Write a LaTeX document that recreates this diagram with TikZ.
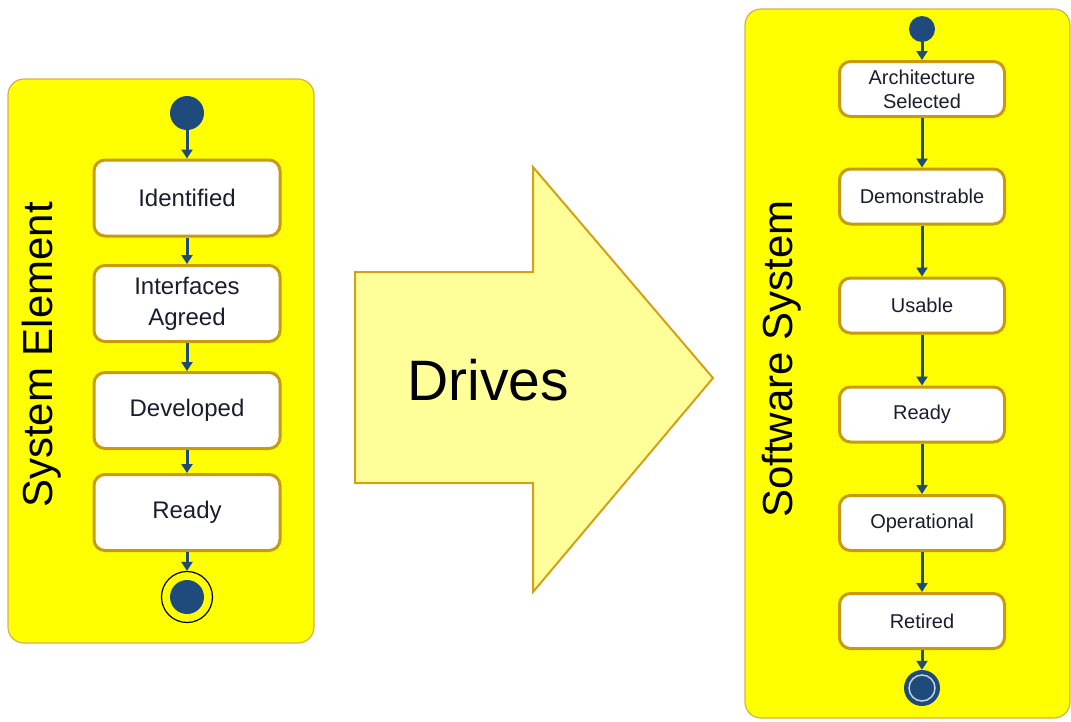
\documentclass[tikz,border=0pt]{standalone}
\usepackage{fontspec}
\setmainfont{Liberation Sans}
\usetikzlibrary{arrows.meta, positioning}
\usepackage{xcolor}
\definecolor{laneyellow}{HTML}{FFFF00}
\definecolor{laneborder}{HTML}{D6B04A}
\definecolor{stateborder}{HTML}{C99A0E}
\definecolor{flowblue}{HTML}{1F4A7C}
\definecolor{drivefill}{HTML}{FFFF99}
\definecolor{driveborder}{HTML}{D4A017}
\definecolor{textdark}{HTML}{1C1C30}

\begin{document}
\begin{tikzpicture}[
    x=1pt, y=-1pt,
    lane/.style={
        draw=laneborder, line width=1.2pt,
        fill=laneyellow,
        rounded corners=16pt
    },
    state/.style={
        rectangle, draw=stateborder, line width=3pt,
        fill=white,
        rounded corners=11pt,
        align=center,
        text=textdark,
        inner sep=0pt
    },
    bigstate/.style={
        state,
        minimum width=186pt, minimum height=76pt,
        font=\fontsize{24}{31}\selectfont
    },
    smallstate/.style={
        state,
        minimum width=165pt, minimum height=55pt,
        font=\fontsize{20}{24}\selectfont
    },
    initial/.style={
        circle, fill=flowblue, inner sep=0pt
    },
    finalring/.style={
        circle, draw=black, line width=1.2pt,
        fill=laneyellow, inner sep=0pt,
        minimum size=51pt
    },
    finaldot/.style={
        circle, fill=flowblue, inner sep=0pt,
        minimum size=36pt
    },
    flow/.style={
        -{Triangle[width=11pt,length=9pt]},
        line width=3pt,
        draw=flowblue
    },
    lanelabel/.style={
        rotate=90,
        font=\fontsize{42}{42}\selectfont,
        text=black
    }
]

\useasboundingbox (0,0) rectangle (1071,721);

% ==========================================
% LANES
% ==========================================

\draw[lane] (8,79) rectangle (314,643);
\draw[lane] (745,9) rectangle (1070,718);

\node[lanelabel] (se_label) at (42,355) {System Element};
\node[lanelabel] (ss_label) at (782,359) {Software System};

% ==========================================
% SYSTEM ELEMENT STATES
% ==========================================

\node[initial, minimum size=34pt] (se_init) at (187,113) {};
\node[bigstate] (se_ident) at (187,198) {Identified};
\node[bigstate] (se_iface) at (187,303.5) {Interfaces\\Agreed};
\node[bigstate] (se_dev) at (187,410.5) {Developed};
\node[bigstate] (se_ready) at (187,512.5) {Ready};
\node[finalring] (se_final) at (187,597) {};
\fill[flowblue] (se_final) circle[radius=17pt];

\draw[flow] (se_init) -- (se_ident);
\draw[flow] (se_ident) -- (se_iface);
\draw[flow] (se_iface) -- (se_dev);
\draw[flow] (se_dev) -- (se_ready);
\draw[flow] (se_ready) -- (se_final);

% ==========================================
% DRIVES ARROW
% ==========================================

\draw[fill=drivefill, draw=driveborder, line width=2pt]
(355,272) -- (533,272) -- (533,167) -- (713,378)
-- (533,592) -- (533,483) -- (355,483) -- cycle;

\node[font=\fontsize{57}{57}\selectfont] (drives) at (488,380) {Drives};

% ==========================================
% SOFTWARE SYSTEM STATES
% ==========================================

\node[initial, minimum size=26pt] (ss_init) at (922,29) {};
\node[smallstate] (ss_arch) at (922,89) {Architecture\\Selected};
\node[smallstate] (ss_demo) at (922,196.5) {Demonstrable};
\node[smallstate] (ss_usable) at (922,305.5) {Usable};
\node[smallstate] (ss_ready) at (922,414.5) {Ready};
\node[smallstate] (ss_oper) at (922,523) {Operational};
\node[smallstate] (ss_retired) at (922,621) {Retired};
\node[finaldot] (ss_final) at (922,688) {};
\draw[white!75!flowblue, line width=1.5pt] (ss_final) circle[radius=13pt];

\draw[flow] (ss_init) -- (ss_arch);
\draw[flow] (ss_arch) -- (ss_demo);
\draw[flow] (ss_demo) -- (ss_usable);
\draw[flow] (ss_usable) -- (ss_ready);
\draw[flow] (ss_ready) -- (ss_oper);
\draw[flow] (ss_oper) -- (ss_retired);
\draw[flow] (ss_retired) -- (ss_final);

\end{tikzpicture}
\end{document}
